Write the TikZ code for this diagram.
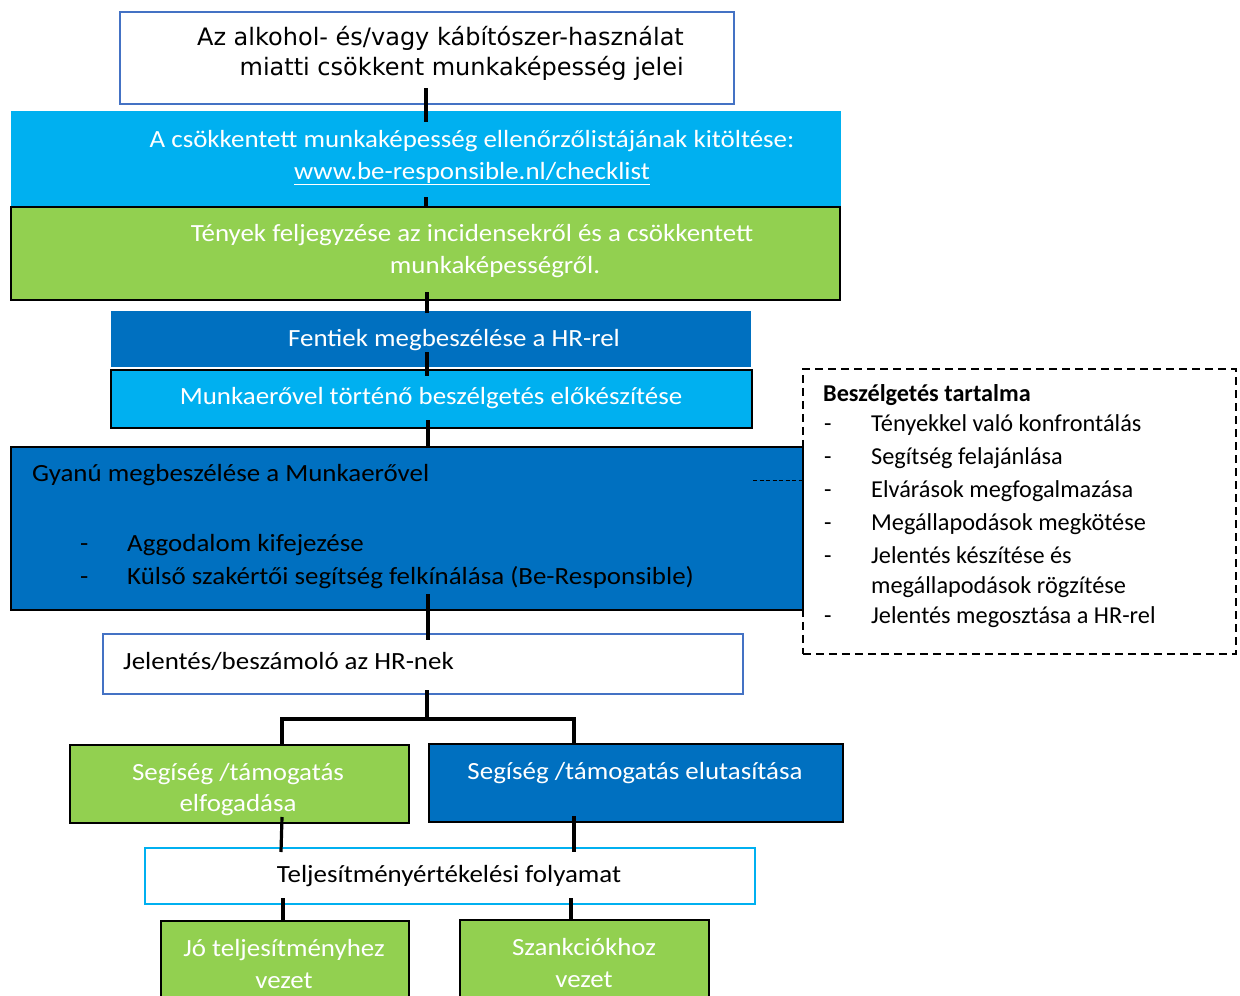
\documentclass[tikz,border=0pt]{standalone}
\usepackage{fontspec}
\setmainfont{Carlito}[FakeStretch=1.09]
\newfontfamily\notefont{Carlito}
\newfontfamily\headfont{DejaVu Sans}
\usetikzlibrary{calc}
\definecolor{msCyan}{HTML}{00B0F0}
\definecolor{msBlue}{HTML}{0070C0}
\definecolor{msGreen}{HTML}{92D050}
\definecolor{msFrame}{HTML}{4472C4}
\tikzset{
  box/.style={rectangle, anchor=north west, inner sep=0pt, line width=2pt},
  whitebox/.style={box, draw=msFrame, fill=white},
  cyanbox/.style={box, fill=msCyan},
  bluebox/.style={box, fill=msBlue},
  greenbox/.style={box, fill=msGreen, draw=black},
  txt/.style={inner sep=0pt, align=center, font=\fontsize{24.7}{32}\selectfont},
  line/.style={inner sep=0pt, text height=18pt, text depth=5.5pt, font=\fontsize{24.7}{32}\selectfont},
  note/.style={inner sep=0pt, anchor=west, text height=17.5pt, text depth=5.3pt, font=\notefont\fontsize{24.3}{30}\selectfont},
  conn/.style={line width=3.2pt, black},
}
\begin{document}
\begin{tikzpicture}[x=1pt, y=-1pt]
\useasboundingbox (0,0) rectangle (1240,996);
\clip (0,0) rectangle (1240,996);
\fill[white] (0,0) rectangle (1240,996);

% main column of steps
\node[whitebox, minimum width=614, minimum height=92] (signs) at (119,11) {};
\node[txt, align=right, anchor=east, font=\headfont\fontsize{24}{30}\selectfont] (signsT) at (684,53) {Az alkohol- és/vagy kábítószer-használat\\miatti csökkent munkaképesség jelei};

\node[cyanbox, minimum width=830, minimum height=95] (check) at (10,110) {};
\node[txt, text=white] (checkT) at (472,157.5)
  {A csökkentett munkaképesség ellenőrzőlistájának kitöltése:\\\underline{www.be-responsible.nl/checklist}};

\node[greenbox, minimum width=829, minimum height=93] (facts) at (10,206) {};
\node[txt, text=white] (factsT) at (472,251)
  {Tények feljegyzése az incidensekről és a csökkentett\\\hspace*{46pt}munkaképességről.};

\node[bluebox, minimum width=640, minimum height=56] (hr) at (110,310) {};
\node[line, text=white] (hrT) at (454,340) {Fentiek megbeszélése a HR-rel};

\node[cyanbox, draw=black, minimum width=641, minimum height=58] (prep) at (110,369) {};
\node[line, text=white] (prepT) at (431,398) {Munkaerővel történő beszélgetés előkészítése};

\node[bluebox, draw=black, minimum width=792, minimum height=163] (talk) at (10,446) {};
\node[line, anchor=west] (talkT) at (32,475) {Gyanú megbeszélése a Munkaerővel};
\node[line, anchor=west] (d1) at (80,545) {-};
\node[line, anchor=west] (b1) at (127,545) {Aggodalom kifejezése};
\node[line, anchor=west] (d2) at (80,578) {-};
\node[line, anchor=west] (b2) at (127,578) {Külső szakértői segítség felkínálása (Be-Responsible)};

% conversation content
\node[rectangle, anchor=north west, draw=black, dash pattern=on 8pt off 5pt, line width=1.8pt, minimum width=433, minimum height=285] (content) at (802,368) {};
\node[note, font=\notefont\fontsize{24.2}{30}\selectfont\bfseries] (cT) at (823,395) {Beszélgetés tartalma};
\foreach \y/\t [count=\i] in {425/Tényekkel való konfrontálás, 458/Segítség felajánlása, 491/Elvárások megfogalmazása, 524/Megállapodások megkötése, 557/Jelentés készítése és, 587/megállapodások rögzítése, 617/Jelentés megosztása a HR-rel}{
  \node[note] (c\i) at (871,\y) {\t};
}
\foreach \y [count=\i] in {425,458,491,524,557,617}{
  \node[note] (cd\i) at (824,\y) {-};
}
\coordinate (noteLink) at (753,480);
\draw[dash pattern=on 4pt off 2.5pt, line width=1pt] (noteLink) -- (noteLink -| content.west);

\node[whitebox, minimum width=640, minimum height=60] (report) at (102,633) {};
\node[line, anchor=west] (reportT) at (123,663) {Jelentés/beszámoló az HR-nek};

\node[greenbox, minimum width=339, minimum height=78] (accept) at (69,744) {};
\begin{scope}
\clip (accept.north west) rectangle ([yshift=-1pt]accept.south east);
\node[txt, text=white, font=\fontsize{24.7}{31}\selectfont] (acceptT) at (238,789.5) {Segíség /támogatás\\elfogadása};
\end{scope}
\node[greenbox, fill=msBlue, minimum width=414, minimum height=78] (reject) at (428,743) {};
\node[line, text=white] (rejectT) at (635,773) {Segíség /támogatás elutasítása};

\node[box, draw=msCyan, fill=white, minimum width=610, minimum height=56] (perf) at (144,847) {};
\node[line] (perfT) at (449,876) {Teljesítményértékelési folyamat};

\node[greenbox, minimum width=248, minimum height=90] (good) at (160,920) {};
\node[txt, text=white] (goodT) at (284,964) {Jó teljesítményhez\\vezet};
\node[greenbox, minimum width=249, minimum height=90] (sanc) at (459,919) {};
\node[txt, text=white] (sancT) at (584,963) {Szankciókhoz\\vezet};

% connectors
\coordinate (x1) at (426,0);
\draw[conn] ([yshift=17]signs.south -| x1) -- ([yshift=-12]check.north -| x1);
\draw[conn] ([yshift=10]check.south -| x1) -- ([yshift=-2]facts.north -| x1);
\coordinate (x2) at (427,0);
\draw[conn] ([yshift=9]facts.south -| x2) -- ([yshift=-3]hr.north -| x2);
\draw[conn] ([yshift=16]hr.south -| x2) -- ([yshift=-7]prep.north -| x2);
\coordinate (x3) at (428,0);
\draw[conn] ([yshift=9]prep.south -| x3) -- ([yshift=-1]talk.north -| x3);
\draw[conn] ([yshift=17]talk.south -| x3) -- ([yshift=-7]report.north -| x3);
\coordinate (split) at (427,719);
\draw[conn] ([yshift=5]report.south -| split) -- (split);
\draw[conn] ([yshift=-1]accept.north -| 282,0) |- (split) -| ([yshift=-1]reject.north -| 574,0);
\draw[conn] ([yshift=7]accept.south -| 282,0) -- ([yshift=-5]perf.north -| 281,0);
\draw[conn] ([yshift=7]reject.south -| 574,0) -- ([yshift=-5]perf.north -| 574,0);
\draw[conn] ([yshift=7]perf.south -| 283,0) -- (good.north -| 283,0);
\draw[conn] ([yshift=7]perf.south -| 571,0) -- (sanc.north -| 571,0);
\end{tikzpicture}
\end{document}
